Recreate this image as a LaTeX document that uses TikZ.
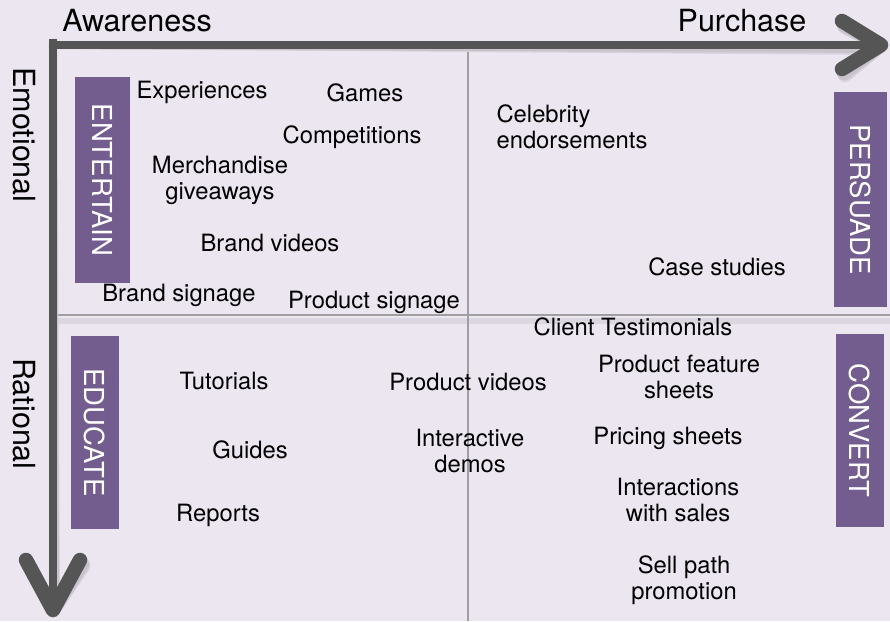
\documentclass[tikz,border=0pt]{standalone}
\usepackage{fontspec}
\setmainfont{TeX Gyre Heros}
\definecolor{bg}{HTML}{EBE6F0}
\definecolor{plum}{HTML}{735D8E}
\definecolor{axisgray}{HTML}{555555}
\tikzset{
  item/.style={align=center, inner sep=0pt, font=\fontsize{23.8}{26}\selectfont},
  axislabel/.style={inner sep=0pt, font=\fontsize{30.5}{32}\selectfont},
  stage/.style={fill=plum, text=white, rotate=-90, inner sep=0pt, font=\fontsize{27.5}{29}\selectfont}
}
\begin{document}
\begin{tikzpicture}[x=1pt,y=-1pt]
\useasboundingbox (0,0) rectangle (890,621);
\fill[bg] (0,0) rectangle (890,621);
%\draw[help lines] (0,0) grid[step=50] (890,621);
\draw[bg!93!black, line width=6pt] (57,321) -- (890,321);
\draw[gray!75, line width=1.2pt] (468,45) -- (468,621);
\draw[gray!75, line width=1.2pt] (57,315) -- (890,315);
\coordinate (corner) at (53,45);
\coordinate (east) at (881,45);
\coordinate (south) at (53,610);
\foreach \dx/\dy/\c in {3/6/bg!92!black, 2/4/bg!85!black, 0/0/axisgray}
{
  \begin{scope}[shift={(\dx,\dy)}, draw=\c]
  \draw[line width=8pt] (corner) ++(0,-6) -- (53,600);
  \draw[line width=8pt] (corner) ++(-4,0) -- (876,45);
  \draw[line width=14.5pt, line cap=round, line join=round] (842,21) -- (east) -- (842,69);
  \draw[line width=14.5pt, line cap=round, line join=round] (26,560) -- (south) -- (80,560);
  \end{scope}
}
\node[axislabel] (aware) at (137,21) {Awareness};
\node[axislabel] (purch) at (742,21) {Purchase};
\node[axislabel, rotate=-90] (emo) at (24,135) {Emotional};
\node[axislabel, rotate=-90] (rat) at (24,414) {Rational};
\node[stage, minimum width=206pt, minimum height=55pt] (entertain) at (102.5,180) {ENTERTAIN};
\node[stage, minimum width=193pt, minimum height=48pt] (educate) at (95,432.5) {EDUCATE};
\node[stage, minimum width=215pt, minimum height=53pt] (persuade) at (860.5,199.5) {PERSUADE};
\node[stage, minimum width=193pt, minimum height=48pt] (convert) at (860,430.5) {CONVERT};
\foreach \n/\x/\y/\t in {exp/202/92/Experiences, games/365/93/Games, comp/352/137/Competitions,
  merch/220/180/{Merchandise\\giveaways}, bvid/270/243/Brand videos, bsign/179/295/Brand signage,
  psign/374/302/Product signage, case/717/267/Case studies, client/633/327/Client Testimonials,
  pfeat/679/377/{Product feature\\sheets}, pvid/468/382/Product videos, demo/470/451/{Interactive\\demos},
  price/668/438/Pricing sheets, sales/678/500/{Interactions\\with sales}, sell/684/580/{Sell path\\promotion},
  tut/224/381/Tutorials, guide/250/450/Guides, rep/218/515/Reports}
  \node[item] (\n) at (\x,\y) {\t};
\node[item, align=left] (celeb) at (572,127) {Celebrity\\endorsements};
\end{tikzpicture}
\end{document}
